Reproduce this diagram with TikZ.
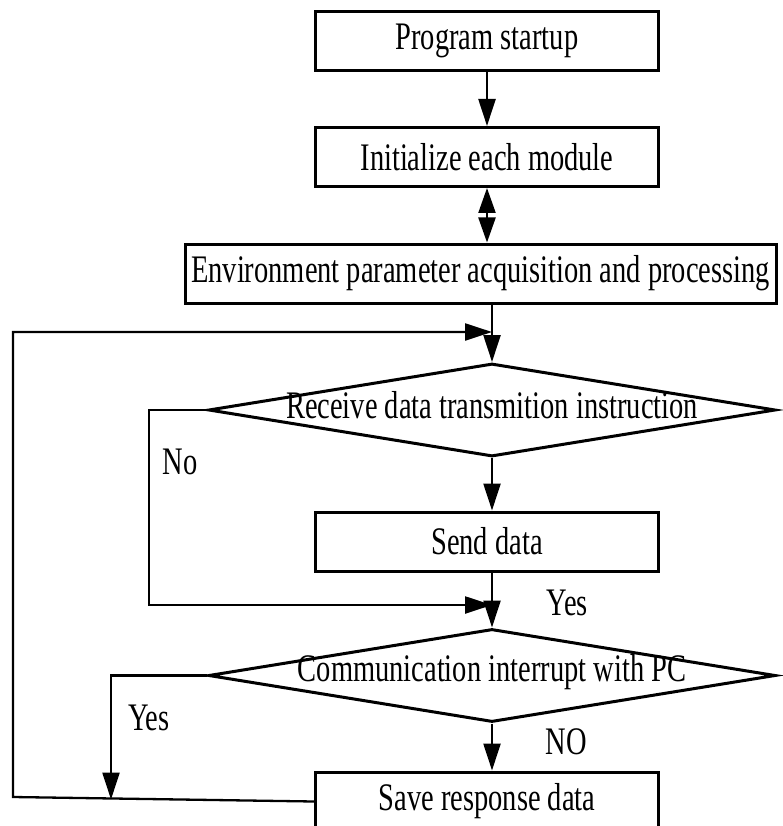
\documentclass[tikz,border=0pt]{standalone}
\usepackage{fontspec}
\setmainfont[FakeStretch=0.73]{Liberation Serif}
\usetikzlibrary{arrows.meta,shapes.geometric}
\begin{document}
\begin{tikzpicture}[x=1pt,y=-1pt,
  font=\fontsize{39}{44}\selectfont,
  proc/.style={draw,line width=3pt,minimum width=343pt,minimum height=59pt,inner sep=0pt},
  decide/.style={draw,diamond,line width=3pt,inner sep=0pt,minimum width=567pt,minimum height=93pt},
  flow/.style={line width=2.3pt,-{Triangle[length=27pt,width=17pt]}},
  lbl/.style={inner sep=0pt}]
\useasboundingbox (0,0) rectangle (782,826);

% process boxes
\node[proc] (start) at (487,41) {Program startup};
\node[proc] (init) at (487,157) {Initialize each module};
\node[proc,minimum width=591pt] (env) at (480.5,273.5) {Environment parameter acquisition and processing};
\node[proc] (send) at (487,541.5) {Send data};
\node[proc] (save) at (487,801.5) {Save response data};

% decision diamonds
\node[decide] (recv) at (492,410) {};
\node[lbl] at (492,405) {Receive data transmition instruction};
\node[decide] (comm) at (492,675.5) {};
\node[lbl] at (492,672) {Communication interrupt with PC};

% joints of the main column and the loops
\coordinate (j1) at (492,332);
\coordinate (j2) at (492,605);
\coordinate (loopTop) at (13,332);
\coordinate (loopBot) at (13,797);
\coordinate (noA) at (149,410);
\coordinate (noB) at (149,605);
\coordinate (yesA) at (111,675.5);
\coordinate (yesB) at (111,799.5);

% main column
\draw[flow] (start.south) -- (init.north);
\draw[line width=2.3pt,{Triangle[length=25pt,width=17pt]}-{Triangle[length=25pt,width=17pt]}] (init.south) -- (init.south |- env.north);
\draw[flow] (env.south -| recv.north) -- (recv.north);
\draw[flow] (recv.south) -- (send.north -| recv.south);
\draw[flow] (send.south -| comm.north) -- (comm.north);
\draw[flow] (comm.south) -- (save.north -| comm.south);

% "No" branch back into the column
\draw[flow] (recv.west) -- (noA) -- (noB) -- (j2);
% "Yes" branch down to the return line
\draw[flow] (comm.west) -- (yesA) -- (yesB);
% return line to the top of the loop
\draw[flow] (save.west) -- (loopBot) -- (loopTop) -- (j1);

% branch labels
\node[lbl] at (180,462) {No};
\node[lbl] at (567,603) {Yes};
\node[lbl] at (149,718) {Yes};
\node[lbl] at (566,742) {NO};
\end{tikzpicture}
\end{document}
